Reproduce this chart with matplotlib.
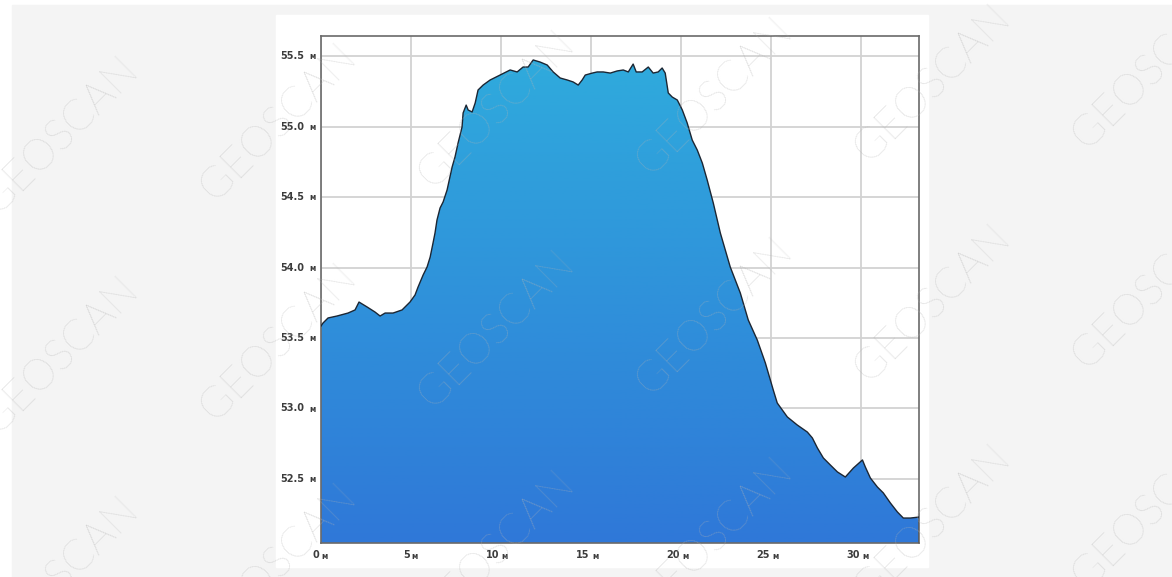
import numpy as np
import matplotlib.pyplot as plt
from matplotlib.patches import Rectangle
from matplotlib.colors import LinearSegmentedColormap

# profile: distance (m) vs elevation (m)
dist = [0.0, 0.11, 0.39, 0.89, 1.5, 1.89, 2.11, 2.56, 3.0, 3.28, 3.56, 4.0, 4.5,
        4.94, 5.22, 5.39, 5.67, 5.89, 6.06, 6.22, 6.33, 6.44, 6.61, 6.78, 7.0,
        7.28, 7.44, 7.61, 7.83, 7.89, 8.06, 8.17, 8.39, 8.56, 8.72, 9.0, 9.39,
        9.94, 10.5, 10.89, 11.22, 11.5, 11.78, 12.17, 12.56, 12.89, 13.28, 13.67,
        14.0, 14.28, 14.5, 14.67, 15.06, 15.33, 15.67, 16.06, 16.44, 16.78, 17.06,
        17.33, 17.5, 17.83, 18.17, 18.44, 18.72, 18.94, 19.11, 19.28, 19.5, 19.78,
        20.06, 20.33, 20.61, 20.89, 21.17, 21.44, 21.78, 22.17, 22.72, 23.28,
        23.72, 24.22, 24.67, 25.11, 25.33, 25.89, 26.44, 27.0, 27.28, 27.56,
        27.89, 28.28, 28.67, 29.11, 29.56, 30.06, 30.22, 30.5, 30.89, 31.22,
        31.61, 32.0, 32.33, 32.72, 33.2]
elev = [53.585, 53.606, 53.642, 53.656, 53.677, 53.699, 53.755, 53.720, 53.684,
        53.656, 53.677, 53.677, 53.699, 53.755, 53.805, 53.862, 53.947, 54.004,
        54.074, 54.174, 54.245, 54.337, 54.422, 54.465, 54.550, 54.713, 54.784,
        54.883, 54.996, 55.096, 55.152, 55.117, 55.103, 55.167, 55.259, 55.294,
        55.330, 55.365, 55.401, 55.387, 55.422, 55.422, 55.472, 55.457, 55.436,
        55.387, 55.344, 55.330, 55.316, 55.294, 55.330, 55.365, 55.379, 55.387,
        55.387, 55.379, 55.394, 55.401, 55.387, 55.443, 55.387, 55.387, 55.422,
        55.379, 55.387, 55.415, 55.379, 55.238, 55.209, 55.188, 55.117, 55.025,
        54.904, 54.833, 54.741, 54.621, 54.457, 54.245, 54.004, 53.819, 53.628,
        53.486, 53.323, 53.131, 53.039, 52.940, 52.883, 52.833, 52.791, 52.720,
        52.649, 52.599, 52.550, 52.514, 52.578, 52.635, 52.585, 52.507, 52.443,
        52.401, 52.330, 52.266, 52.223, 52.223, 52.230]

x_ticks = [0, 5, 10, 15, 20, 25, 30]
y_ticks = [52.5, 53.0, 53.5, 54.0, 54.5, 55.0, 55.5]
unit = "м"

x_max = 33.2
y_min, y_max = 52.046, 55.642

W, H = 1172, 577
fig = plt.figure(figsize=(W / 100, H / 100), dpi=100)
fig.patch.set_facecolor("white")

# page background and white panel behind the chart
fig.patches.append(Rectangle((12 / W, 0), 1 - 12 / W, 1 - 5 / H,
                             transform=fig.transFigure, color="#f4f4f4", zorder=-10))
fig.patches.append(Rectangle((276 / W, 10 / H), (928 - 276) / W, (567 - 15) / H,
                             transform=fig.transFigure, color="white", zorder=-9))

ax = fig.add_axes([321 / W, 1 - 543 / H, (919 - 321) / W, (543 - 36) / H])
ax.set_zorder(1)
ax.set_xlim(0, x_max)
ax.set_ylim(y_min, y_max)
ax.set_facecolor("white")

ax.set_xticks(x_ticks)
ax.set_yticks(y_ticks)
ax.tick_params(length=0, labelbottom=False, labelleft=False)
ax.grid(True, color="#d2d2d2", linewidth=1.3)
ax.set_axisbelow(True)
for s in ax.spines.values():
    s.set_color("#6a6a6a")
    s.set_linewidth(1.2)

# gradient area fill
poly = ax.fill_between(dist, elev, y_min, color="none", zorder=2)
cmap = LinearSegmentedColormap.from_list("prof", ["#2f78d8", "#2fabdd"])
grad = np.linspace(0, 1, 256).reshape(-1, 1)
img = ax.imshow(grad, cmap=cmap, origin="lower", aspect="auto",
                extent=[0, x_max, y_min, 55.5], zorder=2)
img.set_clip_path(poly.get_paths()[0], transform=ax.transData)
ax.set_xlim(0, x_max)
ax.set_ylim(y_min, y_max)
ax.plot(dist, elev, color="#1c2633", linewidth=1.0, zorder=3)
ax.plot([dist[-1], dist[-1]], [elev[-1], y_min], color="#1c2633", linewidth=1.0, zorder=3)

# tick labels with small unit
lab_kw = dict(color="#3c3c3c", fontsize=7, fontweight="bold", annotation_clip=False)
for v in y_ticks:
    ax.annotate(f"{v:.1f}", xy=(0, v), xycoords=("axes fraction", "data"),
                xytext=(-12, 0), textcoords="offset points", ha="right", va="center", **lab_kw)
    ax.annotate(unit, xy=(0, v), xycoords=("axes fraction", "data"),
                xytext=(-4, -0.5), textcoords="offset points", ha="right", va="center",
                color="#3c3c3c", fontsize=5.5, fontweight="bold", annotation_clip=False)
for v in x_ticks:
    ax.annotate(f"{v}", xy=(v, 0), xycoords=("data", "axes fraction"),
                xytext=(-1, -9), textcoords="offset points", ha="right", va="center", **lab_kw)
    ax.annotate(unit, xy=(v, 0), xycoords=("data", "axes fraction"),
                xytext=(0.5, -9.5), textcoords="offset points", ha="left", va="center",
                color="#3c3c3c", fontsize=5.5, fontweight="bold", annotation_clip=False)

# watermark
for i in range(6):
    for j in range(3):
        cx = 60 + 218 * i
        cy = 135 + 220 * j - 13 * i
        fig.text(cx / W, 1 - cy / H, "GEOSCAN", rotation=45, ha="center", va="center",
                 fontsize=31, family="Lato", fontweight="light", color="#b4b4b4",
                 alpha=0.55, zorder=10)

fig.savefig("out.png", dpi=100)
